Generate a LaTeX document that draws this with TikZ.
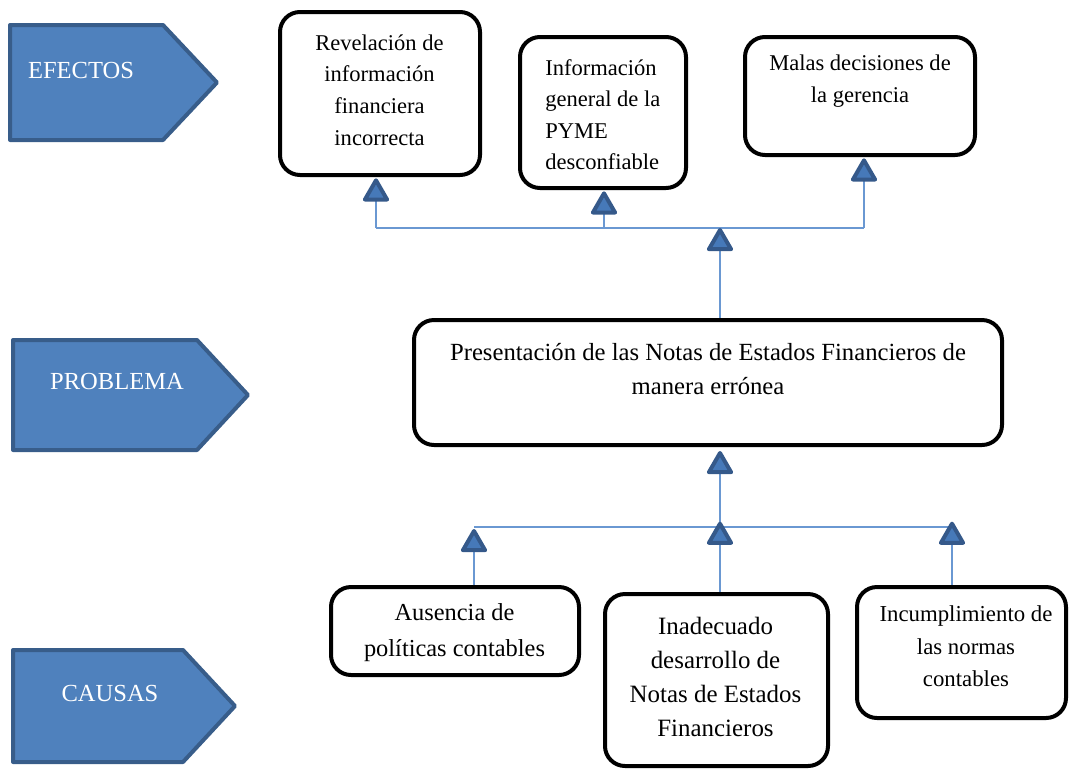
\documentclass[tikz,border=0pt]{standalone}
\usepackage{fontspec}
\setmainfont{LiberationSerif}[Extension=.ttf, UprightFont=*-Regular, BoldFont=*-Bold, ItalicFont=*-Italic, BoldItalicFont=*-BoldItalic]
\usetikzlibrary{arrows.meta,calc}
\definecolor{pfill}{HTML}{4F81BD}
\definecolor{pdraw}{HTML}{385D8A}
\definecolor{lblue}{HTML}{6A98D2}
\definecolor{tfill}{HTML}{4679B9}
\definecolor{tdraw}{HTML}{35598A}
\begin{document}
\begin{tikzpicture}[x=0.75pt,y=-0.75pt,
  box/.style={draw=black, line width=3pt, rounded corners=15pt, inner sep=0pt},
  btext/.style={align=center, inner sep=0pt},
  penta/.style={fill=pfill, draw=pdraw, line width=3pt, line join=round},
  ptext/.style={text=white, font=\fontsize{18.4}{22}\selectfont, inner sep=0pt},
  link/.style={draw=lblue, line width=1.2pt},
  conn/.style={link, -{Triangle[width=21pt,length=19pt,line width=3pt,round,color=tdraw,fill=tfill]}},
]
\useasboundingbox (0,0) rectangle (1071,769);

% pentagons
\draw[penta] (10,25) -- (163,25) -- (217,82.5) -- (163,140) -- (10,140) -- cycle;
\node[ptext] (efectos) at (81,70) {EFECTOS};
\draw[penta] (13,340) -- (197,340) -- (248,395) -- (197,450) -- (13,450) -- cycle;
\node[ptext] (problema) at (117,381) {PROBLEMA};
\draw[penta] (13,650) -- (183,650) -- (235,706) -- (183,762) -- (13,762) -- cycle;
\node[ptext] (causas) at (110,693) {CAUSAS};

% effect boxes
\node[box, minimum width=150pt, minimum height=122.25pt] (e1) at (380,93.5) {};
\node[btext, font=\fontsize{16.9}{23.7}\selectfont] (e1t) at (379.5,90)
  {Revelación de\\información\\financiera\\incorrecta};
\node[box, minimum width=124.5pt, minimum height=113.25pt] (e2) at (603,112.5) {};
\node[btext, align=left, anchor=west, font=\fontsize{16.9}{23.7}\selectfont] (e2t) at (545,114.75)
  {Información\\general de la\\PYME\\desconfiable};
\node[box, minimum width=172.5pt, minimum height=88.5pt] (e3) at (860,96) {};
\node[btext, font=\fontsize{16.9}{23.7}\selectfont] (e3t) at (860,81)
  {Malas decisiones de\\la gerencia};

% problem box
\node[box, minimum width=441pt, minimum height=93.75pt] (p) at (708,382.5) {};
\node[btext, font=\fontsize{18.5}{25.5}\selectfont] (pt) at (708,369)
  {Presentación de las Notas de Estados Financieros de\\manera errónea};

% cause boxes
\node[box, minimum width=186pt, minimum height=66pt] (c1) at (455,631) {};
\node[btext, font=\fontsize{18.3}{27.5}\selectfont] (c1t) at (454.5,632.5)
  {Ausencia de\\políticas contables};
\node[box, minimum width=167.25pt, minimum height=129pt] (c2) at (716.5,680) {};
\node[btext, font=\fontsize{18.7}{25.5}\selectfont] (c2t) at (715.5,677)
  {Inadecuado\\desarrollo de\\Notas de Estados\\Financieros};
\node[box, minimum width=156.75pt, minimum height=98.25pt] (c3) at (961.5,652.5) {};
\node[btext, font=\fontsize{17.1}{24.4}\selectfont] (c3t) at (966,646.3)
  {Incumplimiento de\\las normas\\contables};

% effects connectors
\coordinate (eb1) at (376,228);
\coordinate (eb2) at (604,228);
\coordinate (eb3) at (864,228);
\coordinate (em) at (720,228);
\draw[link] (eb1) -- (eb3);
\draw[conn] (eb1) -- ([yshift=-1pt]eb1 |- e1.south);
\draw[conn] (eb2) -- ([yshift=-1pt]eb2 |- e2.south);
\draw[conn] (eb3) -- ([yshift=-1pt]eb3 |- e3.south);
\draw[conn] (em |- p.north) -- (em);

% causes connectors
\coordinate (cb1) at (474,527);
\coordinate (cb2) at (720,527);
\coordinate (cb3) at (952,527);
\draw[link] (cb1) -- (cb3);
\draw[conn] (cb2) -- ([yshift=-3pt]cb2 |- p.south);
\draw[conn] (cb1 |- c1.north) -- ([yshift=-1.5pt]cb1);
\draw[conn] (cb2 |- c2.north) -- ([yshift=4pt]cb2);
\draw[conn] (cb3 |- c3.north) -- ([yshift=4pt]cb3);
\end{tikzpicture}
\end{document}
